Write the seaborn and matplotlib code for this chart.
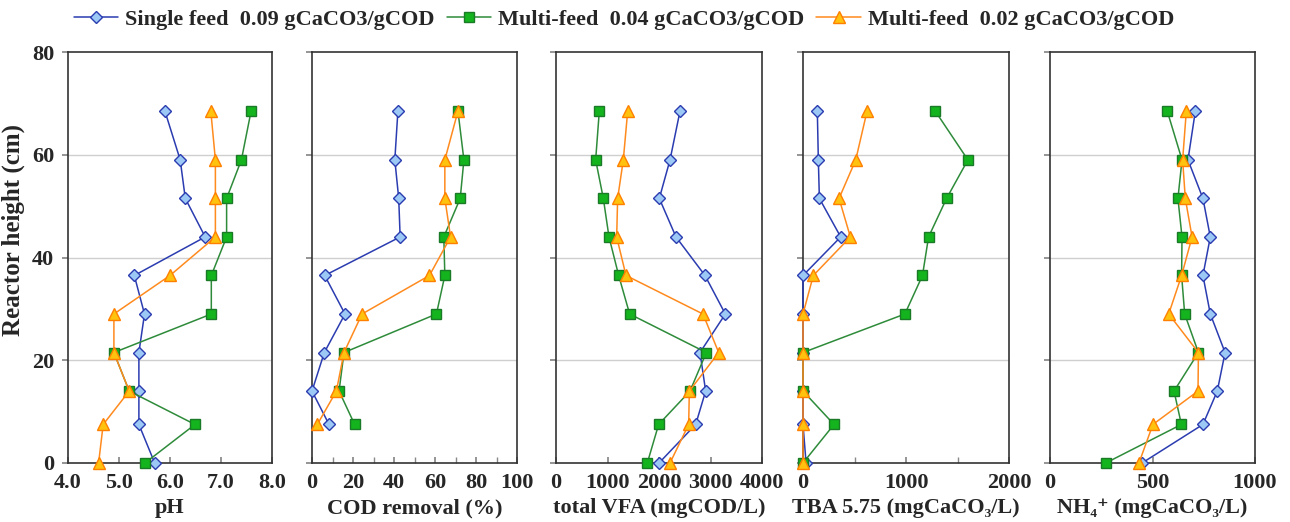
import numpy as np
import pandas as pd
import matplotlib
matplotlib.use("Agg")
import matplotlib.pyplot as plt
import seaborn as sns

sns.set_theme(style="ticks")
plt.rcParams['font.family'] = ['Liberation Serif', 'DejaVu Serif']
plt.rcParams['font.weight'] = 'bold'
plt.rcParams['axes.labelweight'] = 'bold'

heights = [68.5, 59, 51.5, 44, 36.5, 29, 21.5, 14, 7.5, 0]
series_names = ["Single feed  0.09 gCaCO3/gCOD",
                "Multi-feed  0.04 gCaCO3/gCOD",
                "Multi-feed  0.02 gCaCO3/gCOD"]

# pH
ph_single = [5.9, 6.2, 6.3, 6.69, 5.3, 5.5, 5.39, 5.39, 5.39, 5.7]
ph_multi04 = [7.59, 7.4, 7.11, 7.11, 6.81, 6.81, 4.9, 5.2, 6.49, 5.51]
ph_multi02 = [6.8, 6.89, 6.89, 6.89, 6.0, 4.9, 4.9, 5.2, 4.69, 4.6]
# COD removal (%)
cod_single = [41.9, 40.4, 42.3, 43.0, 6.2, 16.1, 6.0, 0.0, 8.3, np.nan]
cod_multi04 = [71.2, 74.1, 72.3, 64.3, 64.8, 60.7, 15.6, 13.2, 20.8, np.nan]
cod_multi02 = [71.2, 64.8, 64.8, 67.6, 57.3, 24.4, 15.6, 11.9, 2.6, np.nan]
# total VFA (mgCOD/L)
vfa_single = [2408, 2214, 2006, 2330, 2893, 3288, 2796, 2906, 2712, 2000]
vfa_multi04 = [841, 770, 919, 1029, 1217, 1430, 2919, 2602, 1993, 1773]
vfa_multi02 = [1392, 1307, 1197, 1178, 1359, 2854, 3159, 2589, 2576, 2214]
# TBA 5.75 (mgCaCO3/L)
tba_single = [139, 149, 159, 366, 0, 0, 0, 0, 0, 30]
tba_multi04 = [1284, 1601, 1394, 1219, 1160, 989, 0, 0, 301, 0]
tba_multi02 = [622, 512, 350, 460, 100, 0, 0, 0, 0, 0]
# NH4+ (mgCaCO3/L)
nh4_single = [709, 673, 746, 782, 746, 782, 854, 816, 746, 449]
nh4_multi04 = [572, 644, 624, 644, 642, 657, 724, 605, 641, 272]
nh4_multi02 = [665, 647, 660, 693, 642, 579, 724, 722, 502, 434]

panels = [
    ("pH", (ph_single, ph_multi04, ph_multi02), (4, 8), [4, 5, 6, 7, 8], ["4.0", "5.0", "6.0", "7.0", "8.0"], None),
    ("COD removal (%)", (cod_single, cod_multi04, cod_multi02), (0, 100), [0, 20, 40, 60, 80, 100], ["0", "20", "40", "60", "80", "100"], 10),
    ("total VFA (mgCOD/L)", (vfa_single, vfa_multi04, vfa_multi02), (0, 4000), [0, 1000, 2000, 3000, 4000], ["0", "1000", "2000", "3000", "4000"], None),
    ("TBA 5.75 (mgCaCO\u2083/L)", (tba_single, tba_multi04, tba_multi02), (0, 2000), [0, 1000, 2000], ["0", "1000", "2000"], 500),
    ("NH\u2084\u207a (mgCaCO\u2083/L)", (nh4_single, nh4_multi04, nh4_multi02), (0, 1000), [0, 500, 1000], ["0", "500", "1000"], None),
]

styles = [
    dict(color="#2b3cb0", marker="D", markersize=6, markerfacecolor="#9cc8f5", markeredgecolor="#2b3cb0", markeredgewidth=1.0),
    dict(color="#2e8b3a", marker="s", markersize=7.5, markerfacecolor="#14b41e", markeredgecolor="#1a7a28", markeredgewidth=1.0),
    dict(color="#ff8a1e", marker="^", markersize=8.5, markerfacecolor="#ffc20e", markeredgecolor="#ff7f00", markeredgewidth=1.0),
]

W, H = 1290, 522
fig = plt.figure(figsize=(W / 100, H / 100), dpi=100)
lefts = [68, 312, 556, 803, 1050]
widths = [204, 205, 206, 206, 205]
bottom_px, top_px = 463, 52

fs = 16
axes = []
for i, (label, data, xlim, xt, xtl, minor) in enumerate(panels):
    ax = fig.add_axes([lefts[i] / W, (H - bottom_px) / H, widths[i] / W, (bottom_px - top_px) / H])
    axes.append(ax)
    for gy in [20, 40, 60]:
        ax.axhline(gy, color="#cfcfcf", lw=1.0, zorder=0)
    for j, vals in enumerate(data):
        df = pd.DataFrame({"x": vals, "y": heights})
        sns.lineplot(data=df, x="x", y="y", sort=False, estimator=None, ax=ax,
                     linewidth=1.1, label=series_names[j] if i == 0 else None,
                     legend=False, clip_on=False, zorder=3, **styles[j])
    ax.set_xlim(*xlim)
    ax.set_ylim(0, 80)
    ax.set_xticks(xt)
    ax.set_xticklabels(xtl, fontsize=fs, fontweight="bold")
    if minor:
        ax.set_xticks(np.arange(xlim[0], xlim[1] + 0.001, minor), minor=True)
    ax.tick_params(axis="x", which="both", direction="in", length=4, pad=7, color="#888888")
    ax.set_yticks([0, 20, 40, 60, 80])
    ax.tick_params(axis="y", direction="out", length=4, pad=6, color="#888888")
    if i == 0:
        ax.set_yticklabels(["0", "20", "40", "60", "80"], fontsize=fs, fontweight="bold")
        ax.set_ylabel("Reactor height (cm)", fontsize=18, fontweight="bold")
        ax.yaxis.set_label_coords(-0.21, 0.567)
    else:
        ax.set_yticklabels([])
        ax.set_ylabel("")
    ax.set_xlabel(label, fontsize=fs, fontweight="bold", labelpad=4)
    for sp in ax.spines.values():
        sp.set_visible(True)
        sp.set_color("#333333")
        sp.set_linewidth(1.2)
    ax.set_facecolor("white")

handles, labels = axes[0].get_legend_handles_labels()
fig.legend(handles, labels, loc="center", bbox_to_anchor=(0.4837, 0.962), ncol=3,
           frameon=False, prop={"size": fs, "weight": "bold"}, handlelength=2.0,
           columnspacing=0.55, handletextpad=0.3)

fig.savefig("out.png", dpi=100)
